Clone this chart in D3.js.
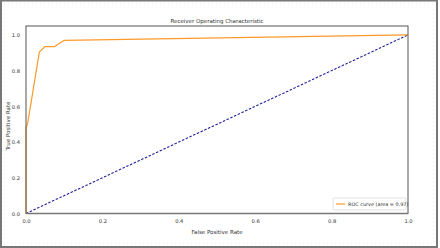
<!DOCTYPE html>
<html><head><meta charset="utf-8">
<script src="https://cdn.jsdelivr.net/npm/d3@7"></script>
<style>body{margin:0;background:#fff}svg{display:block}text{font-family:"DejaVu Sans",sans-serif;fill:#333}</style>
</head><body><svg id="c" width="440" height="248"></svg>
<script>
const rocFpr = [0, 0, 0.004, 0.035, 0.05, 0.075, 0.10, 1.0];
const rocTpr = [0, 0.48, 0.50, 0.905, 0.935, 0.935, 0.97, 1.0];
const diagX = [0, 1];
const diagY = [0, 1];
const xTicks = [0, 0.2, 0.4, 0.6, 0.8, 1.0];
const yTicks = [0, 0.2, 0.4, 0.6, 0.8, 1.0];
const title = "Receiver Operating Characteristic";
const xLabel = "False Positive Rate";
const yLabel = "True Positive Rate";
const legendLabel = "ROC curve (area = 0.97)";

const svg = d3.select("#c");
svg.append("rect").attr("x",1).attr("y",0.5).attr("width",436).attr("height",246.5)
  .attr("fill","none").attr("stroke","#777").attr("stroke-width",2);
svg.append("rect").attr("x",4).attr("y",3).attr("width",430).attr("height",240)
  .attr("fill","none").attr("stroke","#ddd").attr("stroke-width",0.6).attr("stroke-dasharray","1,3");

const L=26, R=408, T=26, B=213.5;
const x = d3.scaleLinear().domain([0,1]).range([L,R]);
const y = d3.scaleLinear().domain([0,1.05]).range([B,T]);

const g = svg.append("g");
const xa = g.append("g").attr("transform",`translate(0,${B})`)
  .call(d3.axisBottom(x).tickValues(xTicks).tickFormat(d3.format(".1f")).tickSize(0).tickPadding(6));
const ya = g.append("g").attr("transform",`translate(${L},0)`)
  .call(d3.axisLeft(y).tickValues(yTicks).tickFormat(d3.format(".1f")).tickSize(0).tickPadding(6));
[xa,ya].forEach(a=>{a.select(".domain").remove();a.selectAll("text").attr("font-size",5.2).attr("fill","#444").style("font-family","DejaVu Sans");});

const line = d3.line().x(d=>x(d[0])).y(d=>y(d[1]));
g.append("path").datum(diagX.map((v,i)=>[v,diagY[i]])).attr("d",line)
  .attr("fill","none").attr("stroke","#1f1f9a").attr("stroke-width",1.1).attr("stroke-dasharray","2.5,1.6");
g.append("path").datum(rocFpr.map((v,i)=>[v,rocTpr[i]])).attr("d",line)
  .attr("fill","none").attr("stroke","#ff9a2a").attr("stroke-width",1.2).attr("stroke-linejoin","round");

g.append("rect").attr("x",L).attr("y",T).attr("width",R-L).attr("height",B-T)
  .attr("fill","none").attr("stroke","#555").attr("stroke-width",1);
g.append("line").attr("x1",L).attr("x2",R).attr("y1",B).attr("y2",B).attr("stroke","#777").attr("stroke-width",1.6);

svg.append("text").attr("x",(L+R)/2).attr("y",22.5).attr("text-anchor","middle").attr("font-size",5.5).text(title);
svg.append("text").attr("x",(L+R)/2).attr("y",234).attr("text-anchor","middle").attr("font-size",5.5).text(xLabel);
svg.append("text").attr("transform",`translate(10,126) rotate(-90)`).attr("text-anchor","middle").attr("font-size",5.5).text(yLabel);

const lg = svg.append("g");
lg.append("rect").attr("x",333).attr("y",198).attr("width",73).attr("height",12).attr("rx",1.5)
  .attr("fill","#fff").attr("stroke","#ccc").attr("stroke-width",0.6);
lg.append("line").attr("x1",336).attr("x2",345).attr("y1",204).attr("y2",204).attr("stroke","#ff9a2a").attr("stroke-width",1.2);
lg.append("text").attr("x",348).attr("y",205.8).attr("font-size",4.9).text(legendLabel);
</script></body></html>
